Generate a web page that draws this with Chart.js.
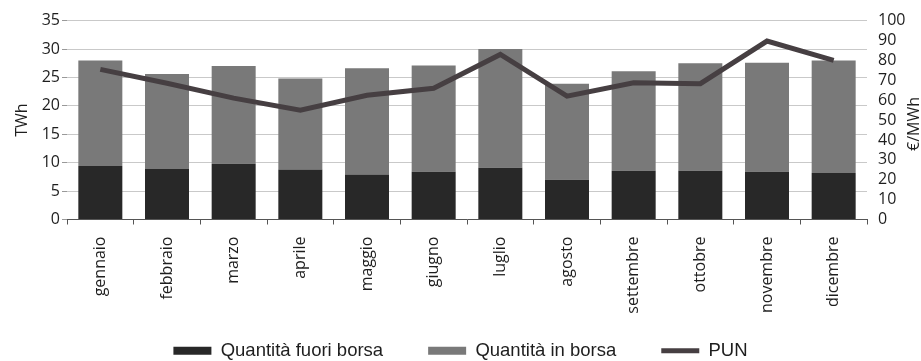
<!DOCTYPE html>
<html>
<head>
<meta charset="utf-8">
<script src="https://cdn.jsdelivr.net/npm/chart.js@4.4.1/dist/chart.umd.min.js"></script>
<style>
html,body{margin:0;padding:0;background:#fff;}
#wrap{position:relative;width:921px;height:361px;}
</style>
</head>
<body>
<div id="wrap"><canvas id="c" width="921" height="361"></canvas></div>
<script>
const months = ['gennaio','febbraio','marzo','aprile','maggio','giugno','luglio','agosto','settembre','ottobre','novembre','dicembre'];
const fuoriBorsa = [9.4, 8.9, 9.8, 8.8, 7.9, 8.4, 9.1, 7.0, 8.6, 8.6, 8.4, 8.2];
const inBorsa = [18.6, 16.7, 17.2, 16.0, 18.7, 18.7, 20.9, 16.9, 17.5, 18.9, 19.2, 19.8];
const pun = [75.5, 68.5, 61, 55, 62.5, 66, 83, 62, 68.7, 68.3, 89.7, 80];
const leftTicks = [0, 5, 10, 15, 20, 25, 30, 35];
const rightTicks = [0, 10, 20, 30, 40, 50, 60, 70, 80, 90, 100];

const FONT = "'Open Sans', 'Noto Sans', sans-serif";
const TXT = '#1e1e1e';

const rightTitle = {
  id: 'rightTitle',
  afterDraw(chart) {
    const ctx = chart.ctx;
    ctx.save();
    ctx.translate(914, 124);
    ctx.rotate(-Math.PI / 2);
    ctx.font = "16px " + FONT;
    ctx.fillStyle = TXT;
    ctx.textAlign = 'center';
    ctx.textBaseline = 'middle';
    ctx.fillText('€/MWh', 0, 0);
    ctx.restore();
  }
};

new Chart(document.getElementById('c'), {
  data: {
    labels: months,
    datasets: [
      { type: 'bar', label: 'Quantità fuori borsa', data: fuoriBorsa, backgroundColor: '#282828', yAxisID: 'y', stack: 's', pointStyle: 'rect', order: 1 },
      { type: 'bar', label: 'Quantità in borsa', data: inBorsa, backgroundColor: '#797979', yAxisID: 'y', stack: 's', pointStyle: 'rect', order: 1 },
      { type: 'line', label: 'PUN', data: pun, borderColor: '#463f42', backgroundColor: '#463f42', borderWidth: 5, pointRadius: 0, tension: 0, yAxisID: 'y1', pointStyle: 'line', order: 0 }
    ]
  },
  options: {
    responsive: false,
    animation: false,
    layout: { padding: { top: 20, left: 0, right: 0, bottom: -9 } },
    datasets: { bar: { categoryPercentage: 1, barPercentage: 0.66 } },
    plugins: {
      tooltip: { enabled: false },
      legend: {
        position: 'bottom',
        labels: {
          usePointStyle: true,
          pointStyleWidth: 38,
          boxHeight: 8,
          padding: 45,
          color: TXT,
          font: { family: "'Liberation Sans', Arial, sans-serif", size: 18.5 },
          sort: (a, b) => a.datasetIndex - b.datasetIndex
        }
      }
    },
    scales: {
      x: {
        stacked: true,
        offset: true,
        grid: { display: true, offset: true, drawOnChartArea: false, color: '#555', tickLength: 5, tickWidth: 1 },
        border: { display: true, color: '#555', width: 1 },
        ticks: { color: TXT, font: { family: FONT, size: 16 }, minRotation: 90, maxRotation: 90, padding: 12, autoSkip: false },
        afterFit: s => { s.height = 77; s._computeLabelArea = () => undefined; }
      },
      y: {
        position: 'left',
        stacked: true,
        min: 0, max: 35,
        afterBuildTicks: s => { s.ticks = leftTicks.map(v => ({ value: v })); },
        grid: { color: '#c9c9c9', lineWidth: 1, tickLength: 5, tickColor: '#999' },
        border: { display: false },
        ticks: { color: TXT, font: { family: FONT, size: 16 }, padding: 2 },
        title: { display: true, text: 'TWh', color: TXT, font: { family: FONT, size: 16 }, padding: { top: 13, bottom: 0 } },
        afterFit: s => { s.width = 67; }
      },
      y1: {
        position: 'right',
        min: 0, max: 100,
        afterBuildTicks: s => { s.ticks = rightTicks.map(v => ({ value: v })); },
        grid: { display: false, drawTicks: false },
        border: { display: false },
        ticks: { color: TXT, font: { family: FONT, size: 16 }, padding: 11, autoSkip: false },
        afterFit: s => { s.width = 54; }
      }
    }
  },
  plugins: [rightTitle]
});
</script>
</body>
</html>
